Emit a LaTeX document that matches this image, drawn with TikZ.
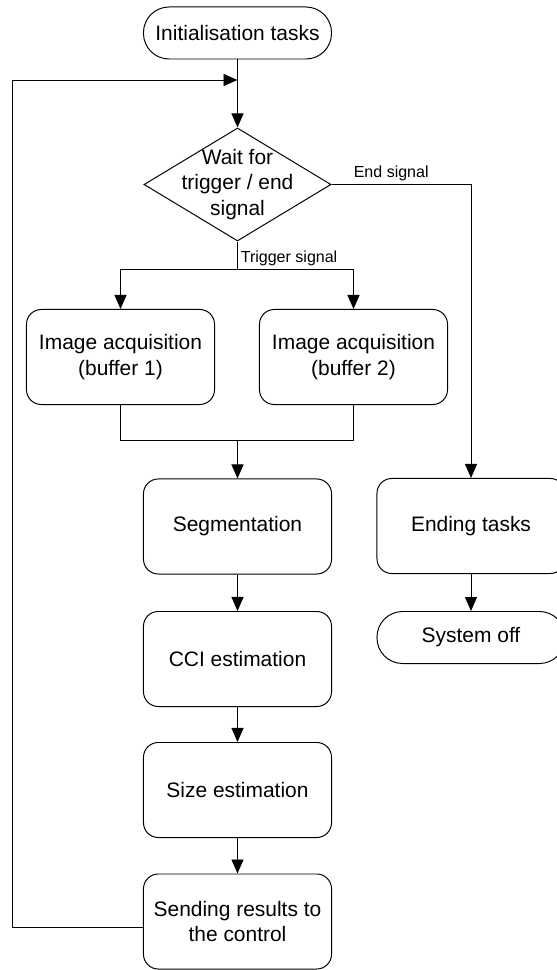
\documentclass[tikz,border=0pt]{standalone}
\usepackage{fontspec}
\setmainfont{Liberation Sans}
\usepackage{tikz}
\usetikzlibrary{shapes.geometric, arrows.meta}
\newcommand{\boxfont}{\fontsize{14.9}{18}\selectfont}
\newcommand{\tagfont}{\fontsize{11.4}{13}\selectfont}
\tikzstyle{line} = [line width=0.7pt]
\tikzstyle{arrow} = [line width=0.7pt,-{Triangle[length=3.5mm,width=3mm]}]
\tikzstyle{process} = [draw, line width=0.7pt, rectangle, rounded corners=3.7mm, minimum width=4.7cm, minimum height=2.375cm, align=center, font=\boxfont]
\tikzstyle{terminal} = [draw, line width=0.7pt, rectangle, rounded corners=6.4mm, minimum width=4.7cm, minimum height=1.3cm, align=center, font=\boxfont]
\tikzstyle{decision} = [draw, line width=0.7pt, diamond, inner sep=0pt, minimum width=4.675cm, minimum height=2.825cm]
\tikzstyle{tag} = [inner sep=2pt, font=\tagfont]

\begin{document}
\begin{tikzpicture}[x=0.025cm, y=-0.025cm]
\clip (0,0) rectangle (557,970);

\node[terminal] (init) at (237.5,33) {Initialisation tasks};
\node[decision, label={[align=center,font=\boxfont]center:Wait for\\trigger / end\\signal}] (dec) at (237.5,184.5) {};
\node[process] (buf1) at (120.5,357) {Image acquisition\\(buffer 1)};
\node[process] (buf2) at (353.5,357) {Image acquisition\\(buffer 2)};
\node[process] (seg) at (237.5,526.5) {Segmentation};
\node[process] (cci) at (237.5,659) {CCI estimation};
\node[process] (size) at (237.5,790) {Size estimation};
\node[process] (send) at (237.5,921.5) {Sending results to\\the control};
\node[process] (endt) at (471,526) {Ending tasks};
\node[terminal] (off) at (471,637.5) {System off};

\coordinate (join) at (237.5,80);
\coordinate (corner) at (12,80);
\coordinate (trig) at (237.5,269);
\coordinate (merge) at (237.5,440);

\draw[arrow] (init) -- (dec);
\draw[arrow] ([yshift=-1.4mm]send.west) -| (corner) -- (join);

\draw[arrow] (dec.east) -| node[tag, pos=0.068, anchor=south west] (endlbl) {End signal} (endt.north);
\draw[line] (dec.south) -- (trig) node[tag, anchor=south west] (triglbl) {Trigger signal};
\draw[arrow] (trig) -| (buf1.north);
\draw[arrow] (trig) -| (buf2.north);

\draw[line] (buf1.south) |- (merge);
\draw[line] (buf2.south) |- (merge);
\draw[arrow] (merge) -- (seg);

\draw[arrow] (seg) -- (cci);
\draw[arrow] (cci) -- (size);
\draw[arrow] (size) -- (send);
\draw[arrow] (endt) -- (off);

\end{tikzpicture}
\end{document}
